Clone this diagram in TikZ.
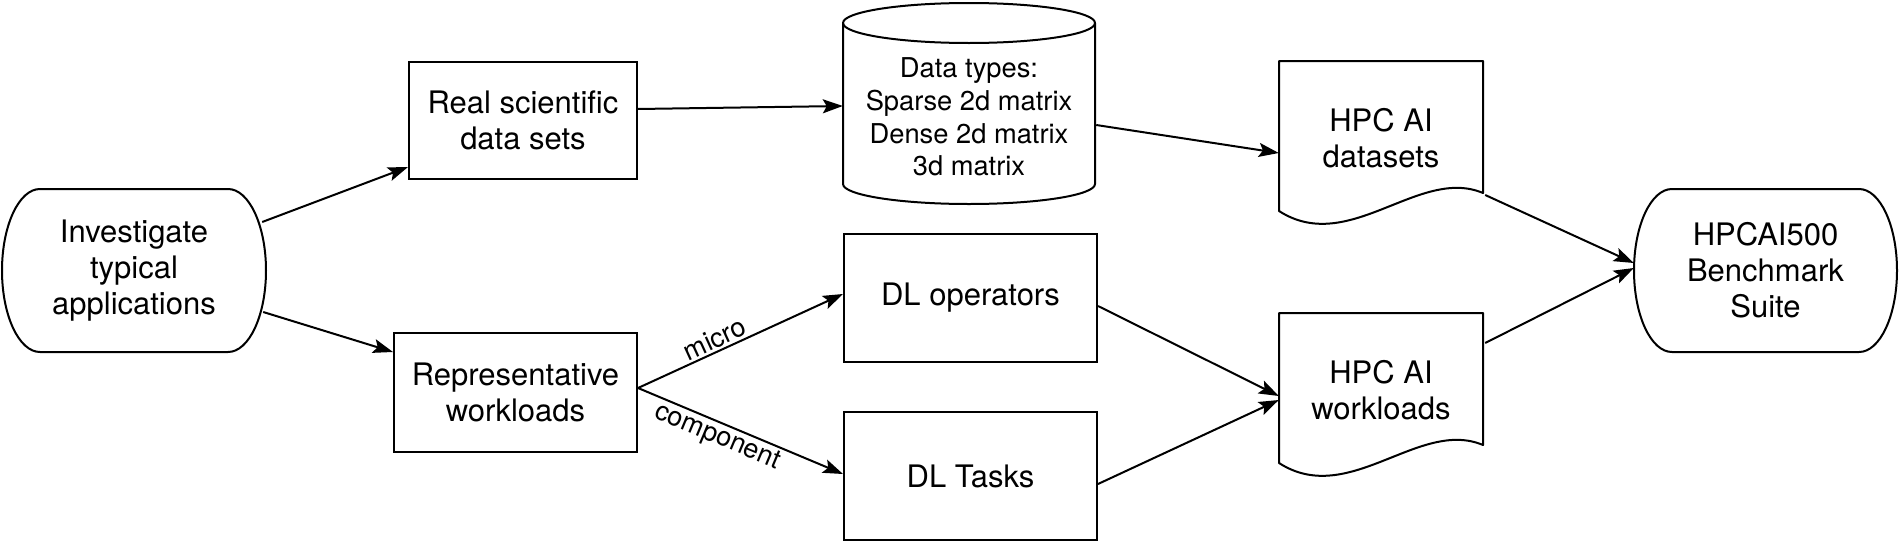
\documentclass[tikz,border=0pt]{standalone}
\usepackage{fontspec}
\setmainfont{TeX Gyre Heros}
\usetikzlibrary{arrows.meta,calc}
\newcommand\mysizeA{\fontsize{31}{36}\selectfont}
\newcommand\mysizeB{\fontsize{27.3}{32.7}\selectfont}
\newcommand\mysizeC{\fontsize{27}{32}\selectfont}
% terminal outline: L T R B
\newcommand\termshape[4]{%
  \draw[outline] ({#1+38},#2) -- ({#3-38},#2)
    .. controls ({#3-17},#2) and (#3,{(#2+#4)/2-0.5523*(#4-#2)/2}) .. (#3,{(#2+#4)/2})
    .. controls (#3,{(#2+#4)/2+0.5523*(#4-#2)/2}) and ({#3-17},#4) .. ({#3-38},#4)
    -- ({#1+38},#4)
    .. controls ({#1+17},#4) and (#1,{(#2+#4)/2+0.5523*(#4-#2)/2}) .. (#1,{(#2+#4)/2})
    .. controls (#1,{(#2+#4)/2-0.5523*(#4-#2)/2}) and ({#1+17},#2) .. ({#1+38},#2) -- cycle;}
% document outline: L T W
\newcommand\docshape[3]{%
  \draw[outline] (#1,{#2+150}) -- (#1,#2) -- ({#1+#3},#2) -- ({#1+#3},{#2+132})
    .. controls ({#1+140},{#2+105}) and ({#1+70},{#2+195}) .. (#1,{#2+150}) -- cycle;}
\tikzset{
  outline/.style={line width=2pt, line join=round},
  box/.style={draw, line width=2pt, align=center, inner sep=0pt, font=\mysizeA},
  txt/.style={align=center, inner sep=0pt, font=\mysizeA},
  conn/.style={line width=2pt, -{Stealth[length=20pt,width=14pt,inset=4pt]}},
  lbl/.style={font=\mysizeC, inner sep=2pt, sloped}
}
\begin{document}
\begin{tikzpicture}[x=1pt,y=-1pt]
\useasboundingbox (0,0) rectangle (1899,541);
\fill[white] (0,0) rectangle (1899,541);

% terminals
\termshape{2}{189}{266}{352}
\node[txt, minimum width=264, minimum height=163] (inv) at (134,270.5) {Investigate\\typical\\applications};
\termshape{1634}{189}{1897}{352}
\node[txt, minimum width=263, minimum height=163] (hpc) at (1765.5,270.5) {HPCAI500\\Benchmark\\Suite};

% rectangles
\node[box, minimum width=228, minimum height=117] (real) at (523,120.5) {Real scientific\\data sets};
\node[box, minimum width=243, minimum height=119] (rep) at (515.5,392.5) {Representative\\workloads};
\node[box, minimum width=253, minimum height=128] (dlop) at (970.5,298) {DL operators};
\node[box, minimum width=253, minimum height=128] (dltask) at (970.5,476) {DL Tasks};

% cylinder
\draw[outline] (969,23) ellipse [x radius=126, y radius=20];
\draw[outline] (843,23) -- (843,184)
  .. controls (843,195.05) and (899.4,204) .. (969,204)
  .. controls (1038.6,204) and (1095,195.05) .. (1095,184) -- (1095,23);
\node[txt, font=\mysizeB, minimum width=252] (cyl) at (969,117) {Data types:\\Sparse 2d matrix\\Dense 2d matrix\\3d matrix};

% documents
\docshape{1279}{61}{204}
\node[txt, minimum width=204, minimum height=155] (ds) at (1381,138.5) {HPC AI\\datasets};
\docshape{1279}{313}{204}
\node[txt, minimum width=204, minimum height=154] (wl) at (1381,390) {HPC AI\\workloads};

% connectors
\draw[conn] ($(inv.east)+(-4,-48.5)$) -- ($(real.west)+(0,46.5)$);
\draw[conn] ($(inv.east)+(-3,41.5)$) -- ($(rep.west)+(0,-40.5)$);
\draw[conn] ($(real.east)+(0,-11.5)$) -- ($(cyl.west)+(0,-11)$);
\draw[conn] ($(cyl.east)+(1,8)$) -- ($(ds.west)+(0,14.5)$);
\draw[conn] ($(rep.east)+(0,-4.5)$) -- node[lbl, pos=0.4, above] (lmicro) {micro} ($(dlop.west)+(0,-4)$);
\draw[conn] ($(rep.east)+(0,-4.5)$) -- node[lbl, pos=0.415, below] (lcomp) {component} ($(dltask.west)+(0,-2)$);
\draw[conn] ($(dlop.east)+(0,8)$) -- ($(wl.west)+(0,6)$);
\draw[conn] ($(dltask.east)+(0,8)$) -- ($(wl.west)+(0,10)$);
\draw[conn] ($(ds.east)+(2,56.5)$) -- ($(hpc.west)+(0,-7.5)$);
\draw[conn] ($(wl.east)+(2,-47)$) -- ($(hpc.west)+(0,-2.5)$);
\end{tikzpicture}
\end{document}
